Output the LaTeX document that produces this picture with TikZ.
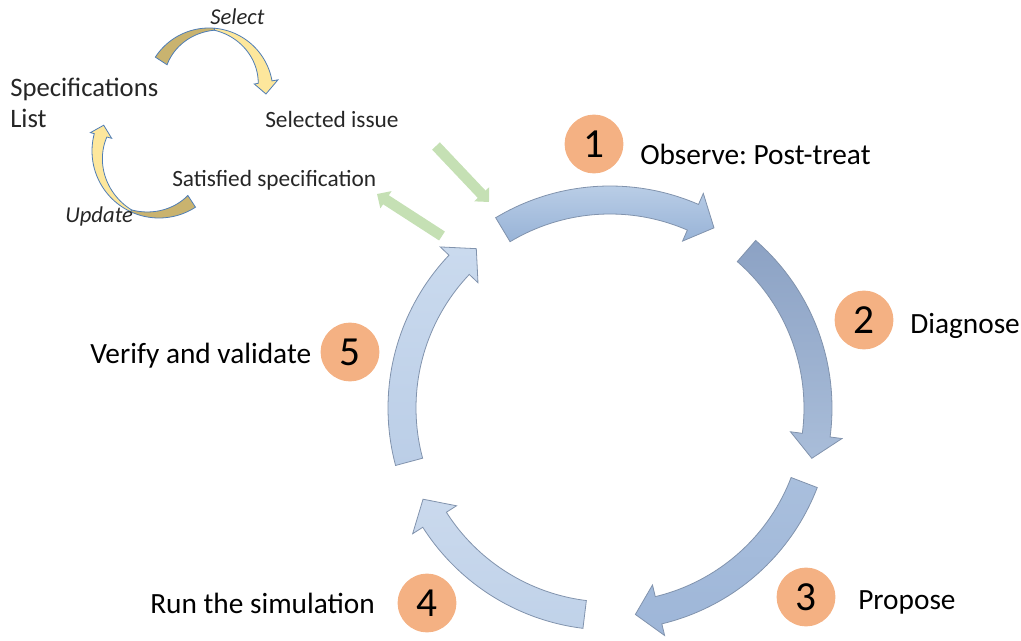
\documentclass[tikz,border=0pt]{standalone}
\usepackage{fontspec}
\setmainfont{Carlito}
\frenchspacing
\usetikzlibrary{arrows.meta}
\definecolor{orangec}{HTML}{F4B183}
\definecolor{greenc}{HTML}{C5E0B4}
\definecolor{olivec}{HTML}{C9B36F}
\definecolor{yellowc}{HTML}{FDE79C}
\definecolor{yline}{HTML}{4F7DB5}
\definecolor{cline}{HTML}{8193AD}
\definecolor{aAt}{HTML}{B9CDE6}\definecolor{aAb}{HTML}{98B3D7}
\definecolor{aBt}{HTML}{8CA2C4}\definecolor{aBb}{HTML}{A9BDD9}
\definecolor{aCt}{HTML}{A9BFDD}\definecolor{aCb}{HTML}{9EB6D8}
\definecolor{aDt}{HTML}{CAD9ED}\definecolor{aDb}{HTML}{C0D2E9}
\definecolor{aEt}{HTML}{CADAEE}\definecolor{aEb}{HTML}{BBCEE7}
\newcommand\cycarr[4]{%
  \pgfmathsetmacro\cycA{#1}\pgfmathsetmacro\cycB{#2-6.5}\pgfmathsetmacro\cycC{#2}%
  \shadedraw[cycline, top color=#3, bottom color=#4, shift={(610,408)}]
    plot[domain=\cycA:\cycB, samples=40] (\x:222) -- (\cycB:234) -- (\cycC:208)
    -- (\cycB:182) -- plot[domain=\cycB:\cycA, samples=40] (\x:194) -- cycle;}
\tikzset{
  cycline/.style={draw=cline, line width=0.6pt, line join=miter},
  ribbon/.style={draw=yline, line width=0.6pt},
  numc/.style={circle, fill=orangec, minimum size=44pt, inner sep=0pt,
    font=\fontsize{31}{34}\selectfont},
  biglabel/.style={anchor=base west, inner sep=0pt, font=\fontsize{22}{26}\selectfont},
  smalllabel/.style={anchor=base west, inner sep=0pt, text=black!85, font=\fontsize{17.5}{21}\selectfont},
  speclabel/.style={anchor=base west, inner sep=0pt, text=black!85, font=\fontsize{20}{24}\selectfont},
  itlabel/.style={anchor=base west, inner sep=0pt, text=black!85, font=\fontsize{17}{20}\selectfont\itshape},
  greenarr/.style={draw=greenc, line width=8pt, -{Triangle[width=15pt,length=8pt]}}
}
\begin{document}
\begin{tikzpicture}[x=0.75pt,y=-0.75pt]
\useasboundingbox (0,0) rectangle (1021,641);
% main cycle arrows
\cycarr{-121}{-60}{aAt}{aAb}
\cycarr{-49}{14}{aBt}{aBb}
\cycarr{21}{83}{aCt}{aCb}
\cycarr{97}{154}{aDt}{aDb}
\cycarr{165}{230}{aEt}{aEb}
% green arrows
\coordinate (g1s) at (436,146);
\coordinate (g1e) at (489,202);
\coordinate (g2s) at (442,236);
\coordinate (g2e) at (377,194);
\draw[greenarr] (g1s) -- (g1e);
\draw[greenarr] (g2s) -- (g2e);
% select ribbon arrow
\begin{scope}[shift={(209,92)}]
  \filldraw[ribbon, fill=olivec] plot[domain=-147:-85, samples=30] (\x:64)
    -- plot[domain=-85:-147, samples=30] (\x:{62+12*(\x+85)/62}) -- cycle;
  \filldraw[ribbon, fill=yellowc] plot[domain=-85:-10, samples=30] (\x:64)
    -- (-10:70) -- (2:57) -- (-10:46)
    -- plot[domain=-10:-85, samples=30] (\x:{62-12*(\x+85)/75}) -- cycle;
\end{scope}
% update ribbon arrow
\begin{scope}[shift={(159,151)}]
  \filldraw[ribbon, fill=olivec] plot[domain=57:115, samples=30] (\x:67)
    -- plot[domain=115:57, samples=30] (\x:{65-12*(115-\x)/58}) -- cycle;
  \filldraw[ribbon, fill=yellowc] plot[domain=115:195, samples=30] (\x:67)
    -- (195:71) -- (205:61) -- (195:49)
    -- plot[domain=195:115, samples=30] (\x:{65-11*(\x-115)/80}) -- cycle;
\end{scope}
% number circles
\node[numc] (n1) at (594,144) {1};
\node[numc] (n2) at (864,320) {2};
\node[numc] (n3) at (806,597) {3};
\node[numc] (n4) at (427,603) {4};
\node[numc] (n5) at (350,352) {5};
% labels
\node[biglabel] (l1) at (640,165) {Observe: Post-treat};
\node[biglabel] (l2) at (910,334) {Diagnose};
\node[biglabel] (l3) at (858,609) {Propose};
\node[biglabel] (l4) at (150,613) {Run the simulation};
\node[biglabel] (l5) at (90,364) {Verify and validate};
% small cycle labels
\node[speclabel] (spec) at (10,97) {Specifications};
\node[speclabel] (list) at (10,128) {List};
\node[smalllabel] (sel) at (265,128) {Selected issue};
\node[smalllabel] (sat) at (172,187) {Satisfied specification};
\node[itlabel] (tsel) at (210,25) {Select};
\node[itlabel] (tupd) at (65,223) {Update};
\end{tikzpicture}
\end{document}
